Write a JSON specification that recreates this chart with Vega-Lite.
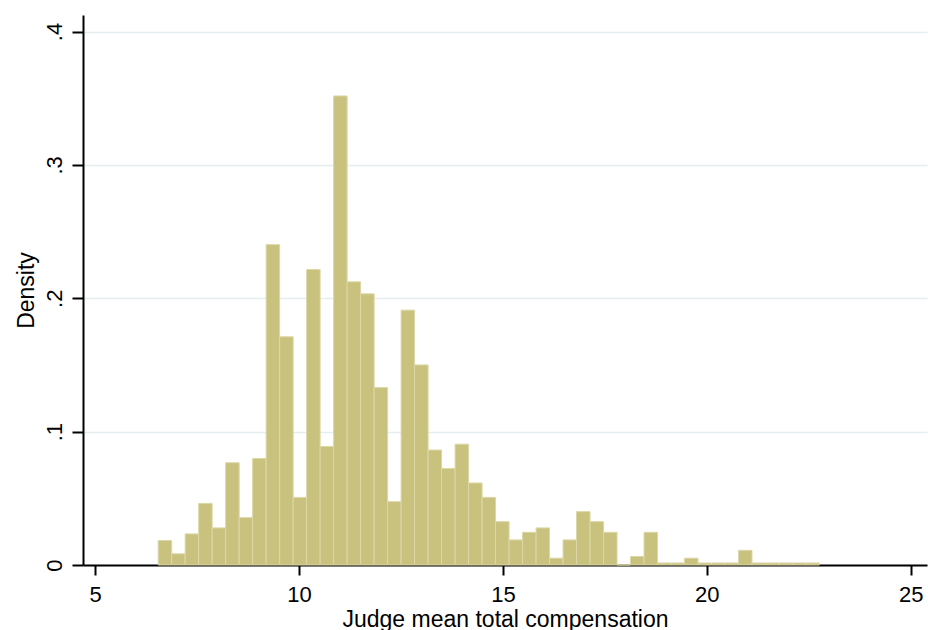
{
  "$schema": "https://vega.github.io/schema/vega-lite/v6.json",
  "width": 844,
  "height": 550,
  "autosize": {"type": "none"},
  "padding": {"left": 83, "top": 15, "right": 1, "bottom": 65},
  "background": "white",
  "config": {
    "view": {"stroke": null},
    "font": "Liberation Sans"
  },
  "data": {
    "values": [
      {"bin_start": 6.544, "bin_end": 6.875, "density": 0.0183},
      {"bin_start": 6.875, "bin_end": 7.206, "density": 0.0084},
      {"bin_start": 7.206, "bin_end": 7.537, "density": 0.0233},
      {"bin_start": 7.537, "bin_end": 7.868, "density": 0.0462},
      {"bin_start": 7.868, "bin_end": 8.199, "density": 0.0278},
      {"bin_start": 8.199, "bin_end": 8.530, "density": 0.0767},
      {"bin_start": 8.530, "bin_end": 8.861, "density": 0.0355},
      {"bin_start": 8.861, "bin_end": 9.192, "density": 0.0799},
      {"bin_start": 9.192, "bin_end": 9.523, "density": 0.2402},
      {"bin_start": 9.523, "bin_end": 9.854, "density": 0.1711},
      {"bin_start": 9.854, "bin_end": 10.185, "density": 0.0507},
      {"bin_start": 10.185, "bin_end": 10.516, "density": 0.2215},
      {"bin_start": 10.516, "bin_end": 10.847, "density": 0.0889},
      {"bin_start": 10.847, "bin_end": 11.178, "density": 0.3517},
      {"bin_start": 11.178, "bin_end": 11.509, "density": 0.2123},
      {"bin_start": 11.509, "bin_end": 11.840, "density": 0.2033},
      {"bin_start": 11.840, "bin_end": 12.171, "density": 0.1330},
      {"bin_start": 12.171, "bin_end": 12.502, "density": 0.0475},
      {"bin_start": 12.502, "bin_end": 12.833, "density": 0.1911},
      {"bin_start": 12.833, "bin_end": 13.164, "density": 0.1500},
      {"bin_start": 13.164, "bin_end": 13.495, "density": 0.0862},
      {"bin_start": 13.495, "bin_end": 13.826, "density": 0.0724},
      {"bin_start": 13.826, "bin_end": 14.157, "density": 0.0906},
      {"bin_start": 14.157, "bin_end": 14.488, "density": 0.0615},
      {"bin_start": 14.488, "bin_end": 14.819, "density": 0.0507},
      {"bin_start": 14.819, "bin_end": 15.150, "density": 0.0325},
      {"bin_start": 15.150, "bin_end": 15.481, "density": 0.0188},
      {"bin_start": 15.481, "bin_end": 15.812, "density": 0.0245},
      {"bin_start": 15.812, "bin_end": 16.143, "density": 0.0278},
      {"bin_start": 16.143, "bin_end": 16.474, "density": 0.0051},
      {"bin_start": 16.474, "bin_end": 16.805, "density": 0.0188},
      {"bin_start": 16.805, "bin_end": 17.136, "density": 0.0400},
      {"bin_start": 17.136, "bin_end": 17.467, "density": 0.0325},
      {"bin_start": 17.467, "bin_end": 17.798, "density": 0.0245},
      {"bin_start": 17.798, "bin_end": 18.129, "density": 0},
      {"bin_start": 18.129, "bin_end": 18.460, "density": 0.0064},
      {"bin_start": 18.460, "bin_end": 18.791, "density": 0.0245},
      {"bin_start": 18.791, "bin_end": 19.122, "density": 0.0015},
      {"bin_start": 19.122, "bin_end": 19.453, "density": 0.0015},
      {"bin_start": 19.453, "bin_end": 19.784, "density": 0.0051},
      {"bin_start": 19.784, "bin_end": 20.115, "density": 0.0015},
      {"bin_start": 20.115, "bin_end": 20.446, "density": 0.0015},
      {"bin_start": 20.446, "bin_end": 20.777, "density": 0.0015},
      {"bin_start": 20.777, "bin_end": 21.108, "density": 0.0110},
      {"bin_start": 21.108, "bin_end": 21.439, "density": 0.0015},
      {"bin_start": 21.439, "bin_end": 21.770, "density": 0.0015},
      {"bin_start": 21.770, "bin_end": 22.101, "density": 0.0015},
      {"bin_start": 22.101, "bin_end": 22.432, "density": 0.0015},
      {"bin_start": 22.432, "bin_end": 22.763, "density": 0.0015}
    ]
  },
  "mark": {"type": "bar", "fill": "#c9c17e", "stroke": "#dcd7a6", "strokeWidth": 1},
  "encoding": {
    "x": {
      "field": "bin_start",
      "type": "quantitative",
      "scale": {"domain": [4.7, 25.4], "nice": false, "zero": false},
      "axis": {
        "title": "Judge mean total compensation",
        "values": [5, 10, 15, 20, 25],
        "grid": false,
        "domainColor": "#000000",
        "domainWidth": 2,
        "tickColor": "#000000",
        "tickWidth": 2,
        "tickSize": 10,
        "labelPadding": 9,
        "labelFont": "Liberation Sans",
        "labelFontSize": 22,
        "labelColor": "#000000",
        "labelFlush": false,
        "titleFont": "Liberation Sans",
        "titleFontSize": 23,
        "titleFontWeight": "normal",
        "titleColor": "#000000",
        "titleBaseline": "alphabetic",
        "titleY": 61
      }
    },
    "x2": {"field": "bin_end"},
    "y": {
      "field": "density",
      "type": "quantitative",
      "scale": {"domain": [0, 0.4124], "nice": false},
      "axis": {
        "title": "Density",
        "values": [0, 0.1, 0.2, 0.3, 0.4],
        "labelExpr": "datum.value == 0 ? '0' : replace(format(datum.value, '.1f'), '0.', '.')",
        "grid": true,
        "gridColor": "#e4eef1",
        "gridWidth": 1.5,
        "domainColor": "#000000",
        "domainWidth": 2,
        "tickColor": "#000000",
        "tickWidth": 2,
        "tickSize": 11,
        "labelPadding": 11,
        "labelAngle": -90,
        "labelAlign": "center",
        "labelBaseline": "alphabetic",
        "labelFont": "Liberation Sans",
        "labelFontSize": 22,
        "labelColor": "#000000",
        "labelFlush": false,
        "titleFont": "Liberation Sans",
        "titleFontSize": 23,
        "titleFontWeight": "normal",
        "titleColor": "#000000",
        "titleAngle": -90,
        "titleBaseline": "alphabetic",
        "titleAlign": "center",
        "titleX": -50,
        "titleY": 275
      }
    },
    "y2": {"datum": 0}
  }
}
